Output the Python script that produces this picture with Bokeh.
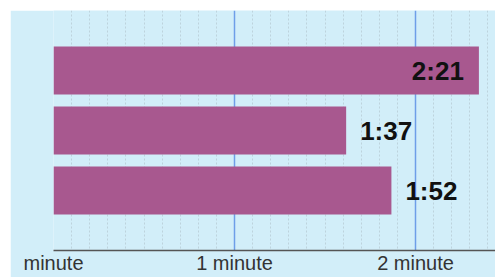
from bokeh.plotting import figure
from bokeh.models import ColumnDataSource, FixedTicker, Range1d
from bokeh.embed import file_html
from bokeh.resources import INLINE
from bokeh.core.properties import value

# data (seconds)
durations = [141, 97, 112]
value_labels = ["2:21", "1:37", "1:52"]
positions = [1, 2, 3]
tick_values = [0, 60, 120]
tick_labels = ["minute", "1 minute", "2 minute"]

BG = "#d2eef9"
BAR = "#a8588f"

inside = [d > 130 for d in durations]
src = ColumnDataSource(dict(
    y=positions, right=durations, label=value_labels,
    align=["right" if i else "left" for i in inside],
    xoff=[-15 if i else 14 for i in inside],
))

p = figure(width=485, height=267, output_backend="svg", toolbar_location=None,
           x_range=Range1d(0, 146.5), y_range=Range1d(4, 0),
           min_border_left=43, min_border_right=0, min_border_top=0, min_border_bottom=27,
           styles={"margin-left": "10px", "margin-top": "10px"})
p.background_fill_color = BG
p.border_fill_color = BG
p.outline_line_color = None

p.hbar(y="y", right="right", left=0, height=0.8, source=src, color=BAR, line_color=None)
p.text(x="right", y="y", text="label", source=src, text_align="align", x_offset="xoff",
       text_baseline="middle", text_font=value("Liberation Sans"), text_font_style="bold",
       text_font_size="26px", text_color="#111111")

minor = [t for t in range(6, 147, 6) if t % 60 != 0]
p.xaxis.ticker = FixedTicker(ticks=tick_values, minor_ticks=minor)
p.xaxis.major_label_overrides = {v: l for v, l in zip(tick_values, tick_labels)}
p.xaxis.major_tick_line_color = None
p.xaxis.minor_tick_line_color = None
p.xaxis.major_tick_out = 0
p.xaxis.major_tick_in = 0
p.xaxis.minor_tick_out = 0
p.xaxis.axis_line_color = "#555555"
p.xaxis.axis_line_width = 1.5
p.xaxis.major_label_text_font = "Liberation Sans"
p.xaxis.major_label_text_font_size = "20px"
p.xaxis.major_label_text_color = "#333333"
p.xaxis.major_label_standoff = 1
p.yaxis.visible = False

p.xgrid.grid_line_color = "#6e9ee8"
p.xgrid.grid_line_width = 1.5
p.xgrid.minor_grid_line_color = "#b8ccd6"
p.xgrid.minor_grid_line_dash = "2 2"
p.xgrid.minor_grid_line_alpha = 0.8
p.ygrid.visible = False

open("out.html", "w").write(file_html(p, INLINE))
